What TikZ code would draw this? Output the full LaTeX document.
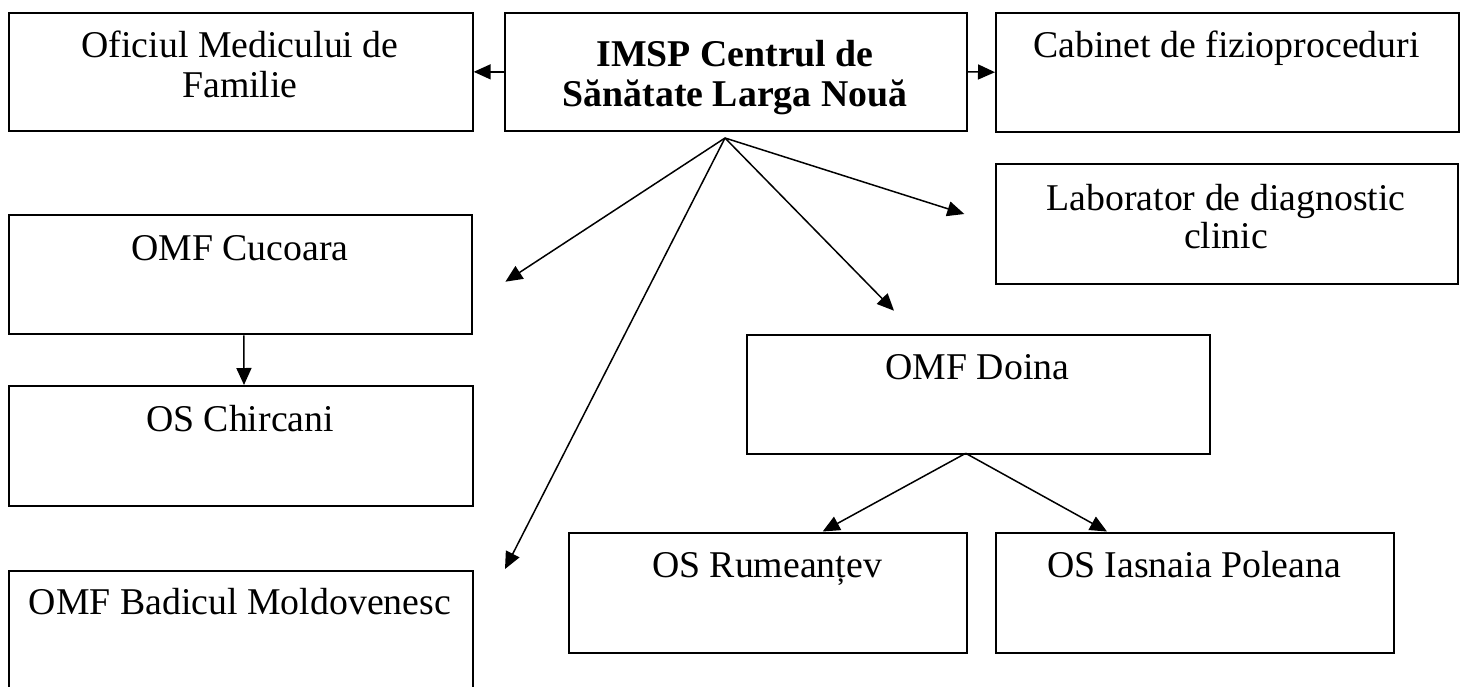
\documentclass[tikz,border=0pt]{standalone}
\usepackage{fontspec}
\setmainfont{Liberation Serif}
\usetikzlibrary{arrows.meta}
\begin{document}
\begin{tikzpicture}[x=1pt,y=-1pt,
  box/.style={draw, line width=2pt, inner sep=0pt, anchor=north west},
  lbl/.style={anchor=base, inner sep=0pt, font=\fontsize{37.8}{40}\selectfont},
  arr/.style={line width=1.5pt, -{Triangle[length=17pt,width=15pt]}}]
\useasboundingbox (0,0) rectangle (1466,686);
\clip (0,0) rectangle (1466,686);
\fill[white] (0,0) rectangle (1466,686);

% boxes
\node[box, minimum width=463.4pt, minimum height=118.3pt] (ofic) at (8.3,11.7) {};
\node[box, minimum width=462pt, minimum height=118.3pt] (imsp) at (504,11.7) {};
\node[box, minimum width=463pt, minimum height=119pt] (cab) at (995,11.7) {};
\node[box, minimum width=462.4pt, minimum height=120pt] (lab) at (994.6,162.7) {};
\node[box, minimum width=463pt, minimum height=119.3pt] (cuc) at (8.3,214) {};
\node[box, minimum width=463.4pt, minimum height=120pt] (chir) at (8.3,385) {};
\node[box, minimum width=463.4pt, minimum height=130pt] (bad) at (8.3,570) {};
\node[box, minimum width=463pt, minimum height=119.3pt] (doina) at (746,334) {};
\node[box, minimum width=397.7pt, minimum height=119.5pt] (rum) at (568,532) {};
\node[box, minimum width=398pt, minimum height=119.4pt] (ias) at (995,532.3) {};

% texts
\node[lbl] (t1a) at (240,57) {Oficiul Medicului de};
\node[lbl] (t1b) at (240,97) {Familie};
\node[lbl, font=\fontsize{37.8}{40}\selectfont\bfseries] (t2a) at (735,66.7) {IMSP Centrul de};
\node[lbl, font=\fontsize{37.8}{40}\selectfont\bfseries] (t2b) at (735,106) {Sănătate Larga Nouă};
\node[lbl] (t3) at (1226.5,57) {Cabinet de fizioproceduri};
\node[lbl] (t4a) at (1226,210) {Laborator de diagnostic};
\node[lbl] (t4b) at (1226,248) {clinic};
\node[lbl] (t5) at (240,260) {OMF Cucoara};
\node[lbl] (t6) at (240,431) {OS Chircani};
\node[lbl] (t7) at (240,614) {OMF Badicul Moldovenesc};
\node[lbl] (t8) at (977.5,379.5) {OMF Doina};
\node[lbl] (t9) at (767,577) {OS Rumeanțev};
\node[lbl] (t10) at (1194,577) {OS Iasnaia Poleana};

% connector end points
\coordinate (apex) at (725,138);
\coordinate (tc) at (505.4,281.7);
\coordinate (tb) at (505,569);
\coordinate (td) at (894,310.7);
\coordinate (tl) at (964.3,214);
\coordinate (dapex) at (965.7,453.3);
\coordinate (tr) at (822.7,531.5);
\coordinate (ti) at (1107,531.5);

% connectors
\draw[arr] (imsp.west) -- (ofic.east);
\draw[arr] (imsp.east) -- (cab.west);
\draw[arr] (apex) -- (tc);
\draw[arr] (apex) -- (tb);
\draw[arr] (apex) -- (td);
\draw[arr] (apex) -- (tl);
\draw[arr] ([xshift=3pt]cuc.south) -- ([xshift=3pt]chir.north);
\draw[arr] (dapex) -- (tr);
\draw[arr] (dapex) -- (ti);
\end{tikzpicture}
\end{document}
